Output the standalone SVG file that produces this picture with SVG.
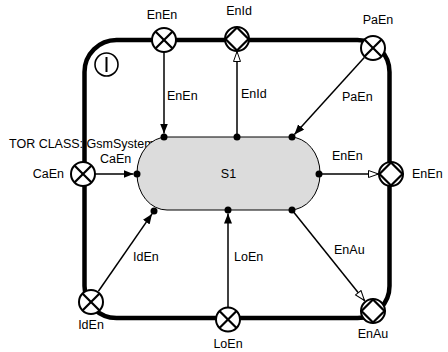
<svg xmlns="http://www.w3.org/2000/svg" xmlns:xlink="http://www.w3.org/1999/xlink" width="448" height="352" viewBox="0 0 448 352">
  <style>
    text { font-family: "Liberation Sans", Arial, sans-serif; font-size: 12.5px; fill: #000; }
    .mid { text-anchor: middle; }
    .end { text-anchor: end; }
    .frame { fill: none; stroke: #000; stroke-width: 4.5; }
    .state { fill: #dcdcdc; stroke: #000; stroke-width: 1; }
    .conn { fill: none; stroke: #000; stroke-width: 1.5; }
    .dot { fill: #000; }
    .port { fill: #fff; stroke: #000; stroke-width: 2; }
    .glyph { fill: none; stroke: #000; stroke-width: 2.2; }
  </style>
  <defs>
    <marker id="arrowFilled" markerUnits="userSpaceOnUse" markerWidth="11" markerHeight="9" refX="10" refY="4" orient="auto">
      <path d="M0,0 L10,4 L0,8 z" fill="#000"/>
    </marker>
    <marker id="arrowOpen" markerUnits="userSpaceOnUse" markerWidth="12" markerHeight="10" refX="10.5" refY="4.5" orient="auto">
      <path d="M0.5,1 L10.5,4.5 L0.5,8 z" fill="#fff" stroke="#000" stroke-width="1"/>
    </marker>
    <!-- end port: circle with a cross -->
    <g id="portCross">
      <circle class="port" r="12"/>
      <line class="glyph" x1="-8.3" y1="-8.3" x2="8.3" y2="8.3"/>
      <line class="glyph" x1="-8.3" y1="8.3" x2="8.3" y2="-8.3"/>
    </g>
    <!-- relay port: circle with a diamond -->
    <g id="portDiamond">
      <circle class="port" r="12"/>
      <path class="glyph" d="M0,-11.5 L11.5,0 L0,11.5 L-11.5,0 z"/>
    </g>
  </defs>

  <!-- class caption, partly hidden by the frame and the state -->
  <text x="9" y="147.5">TOR CLASS: GsmSystem</text>

  <!-- capsule frame -->
  <rect class="frame" x="84.5" y="40" width="305" height="278" rx="32" ry="32"/>

  <!-- initial marker -->
  <g id="initial">
    <circle cx="106.5" cy="64.5" r="11.5" fill="#fff" stroke="#000" stroke-width="1.6"/>
    <line x1="106.5" y1="57" x2="106.5" y2="72" stroke="#000" stroke-width="2"/>
  </g>

  <!-- state -->
  <g id="S1">
    <rect class="state" x="137" y="137" width="183" height="73" rx="30" ry="36"/>
    <text class="mid" x="228.5" y="178">S1</text>
  </g>

  <!-- transitions -->
  <g id="connectors">
    <line class="conn" x1="164" y1="52" x2="164" y2="133.5" marker-end="url(#arrowFilled)"/>
    <line class="conn" x1="237" y1="137" x2="237" y2="51.5" marker-end="url(#arrowOpen)"/>
    <line class="conn" x1="364.3" y1="57.6" x2="294.4" y2="134.4" marker-end="url(#arrowFilled)"/>
    <line class="conn" x1="95" y1="174" x2="133.5" y2="174" marker-end="url(#arrowFilled)"/>
    <line class="conn" x1="319" y1="174" x2="378.5" y2="174" marker-end="url(#arrowOpen)"/>
    <line class="conn" x1="98.4" y1="291.3" x2="152" y2="213.9" marker-end="url(#arrowFilled)"/>
    <line class="conn" x1="228" y1="307" x2="228" y2="213.5" marker-end="url(#arrowFilled)"/>
    <line class="conn" x1="292" y1="210" x2="364.5" y2="300.5" marker-end="url(#arrowOpen)"/>

    <circle class="dot" cx="164" cy="137" r="3.5"/>
    <circle class="dot" cx="237" cy="137" r="3.5"/>
    <circle class="dot" cx="292" cy="137" r="3.5"/>
    <circle class="dot" cx="137" cy="174" r="3.5"/>
    <circle class="dot" cx="319" cy="174" r="3.5"/>
    <circle class="dot" cx="154" cy="211" r="3.5"/>
    <circle class="dot" cx="228" cy="210" r="3.5"/>
    <circle class="dot" cx="292" cy="210" r="3.5"/>

    <text x="167" y="100">EnEn</text>
    <text x="241" y="98">EnId</text>
    <text x="342" y="101">PaEn</text>
    <text x="100" y="162.5">CaEn</text>
    <text x="332" y="160">EnEn</text>
    <text x="133" y="261">IdEn</text>
    <text x="234" y="261">LoEn</text>
    <text x="334" y="254">EnAu</text>
  </g>

  <!-- ports -->
  <g id="port-EnEn-top">
    <use xlink:href="#portCross" x="164" y="40"/>
    <text class="mid" x="162" y="19">EnEn</text>
  </g>
  <g id="port-EnId">
    <use xlink:href="#portDiamond" x="237" y="39"/>
    <text class="mid" x="239" y="15">EnId</text>
  </g>
  <g id="port-PaEn">
    <use xlink:href="#portCross" x="373" y="48"/>
    <text class="mid" x="378" y="24">PaEn</text>
  </g>
  <g id="port-CaEn">
    <use xlink:href="#portCross" x="83" y="174"/>
    <text class="end" x="64" y="178">CaEn</text>
  </g>
  <g id="port-EnEn-right">
    <use xlink:href="#portDiamond" x="391" y="174"/>
    <text x="412" y="178">EnEn</text>
  </g>
  <g id="port-IdEn">
    <use xlink:href="#portCross" x="91" y="302"/>
    <text class="mid" x="91" y="329">IdEn</text>
  </g>
  <g id="port-LoEn">
    <use xlink:href="#portCross" x="228" y="319.5"/>
    <text class="mid" x="228" y="348">LoEn</text>
  </g>
  <g id="port-EnAu">
    <use xlink:href="#portDiamond" x="373" y="311"/>
    <text class="mid" x="373" y="338">EnAu</text>
  </g>
</svg>
